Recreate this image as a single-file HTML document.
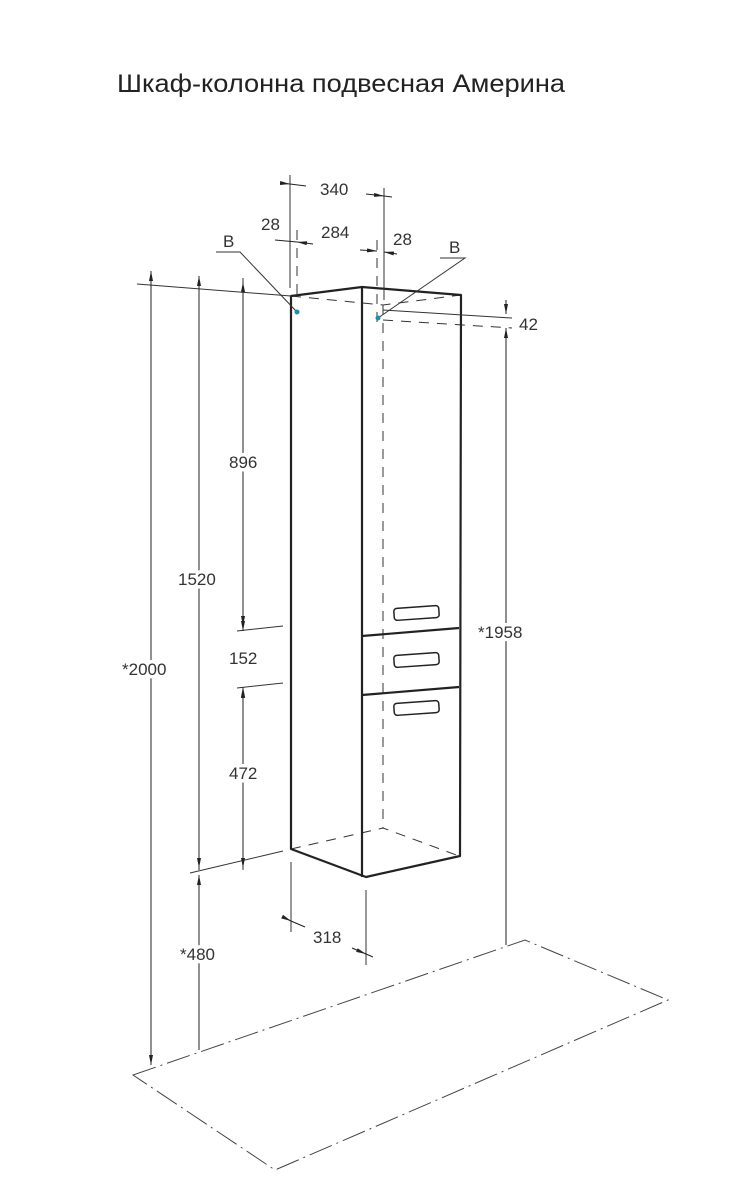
<!DOCTYPE html>
<html><head><meta charset="utf-8"><style>
html,body{margin:0;padding:0;background:#fff;}
svg{display:block}
text{font-family:"Liberation Sans",sans-serif;fill:#333;}
.l text{stroke:#fff;stroke-width:7;paint-order:stroke;stroke-linejoin:round;}
</style></head><body>
<svg width="732" height="1200" viewBox="0 0 732 1200" xmlns="http://www.w3.org/2000/svg">
<defs>
<marker id="a" viewBox="0 0 10 4" refX="10" refY="2" markerWidth="10" markerHeight="4" orient="auto-start-reverse" markerUnits="userSpaceOnUse"><path d="M0,0L10,2L0,4z" fill="#222"/></marker>
</defs>
<text x="117" y="92" font-size="25" textLength="448" lengthAdjust="spacingAndGlyphs" style="fill:#222">Шкаф-колонна подвесная  Америна</text>

<!-- floor -->
<polygon points="133,1075 525,940 668,1000 275,1170" fill="none" stroke="#444" stroke-width="1" stroke-dasharray="24,5,2,5"/>

<!-- cabinet hidden lines -->
<g stroke="#333" stroke-width="1" stroke-dasharray="10,8" fill="none">
<path d="M291,296 L383,305 L461,295"/>
<path d="M383,305 L383,828"/>
<path d="M291,849 L383,828 L459,856"/>
<path d="M377,240 L377,325"/>
<path d="M297,230 L297,300"/>
<path d="M383,320 L512,328"/>
</g>
<!-- cabinet -->
<g stroke="#222" stroke-width="2.2" fill="none" stroke-linejoin="round">
<path d="M291,296 L362,287 L461,295 L460,856 L366,877 L291,849 Z"/>
<path d="M362,287 L362,877"/>
<path d="M362,636 L459,628"/>
<path d="M362,695 L459,687"/>
</g>
<g stroke="#222" stroke-width="1.5" fill="none">
<rect x="394" y="607" width="45" height="12" rx="3" transform="rotate(-4 416 613)"/>
<rect x="394" y="654" width="45" height="12" rx="3" transform="rotate(-4 416 660)"/>
<rect x="394" y="702" width="45" height="12" rx="3" transform="rotate(-4 416 708)"/>
</g>

<!-- thin dimension lines -->
<g stroke="#333" stroke-width="1" fill="none">
<path d="M137,284 L291,296"/>
<path d="M383,310 L512,318"/>
<path d="M290,175 L290,288"/>
<path d="M384,188 L384,300"/>
<path d="M216,252 L240,252 L297,312"/>
<path d="M440,258 L465,258 L378,318"/>
<path d="M237,631 L283,626"/>
<path d="M237,688 L283,683"/>
<path d="M190,873 L283,851"/>
<path d="M291,862 L291,932"/>
<path d="M366,890 L366,965"/>
<path d="M243,278 L243,625"/>
<path d="M243,690 L243,870"/>
</g>
<g stroke="#222" stroke-width="1" fill="none">
<path d="M280,183 L290,184" marker-end="url(#a)"/>
<path d="M306,186 L290,184"/>
<path d="M366,194 L384,196" marker-end="url(#a)"/>
<path d="M384,196 L392,197"/>
<path d="M275,240 L297,242"/>
<path d="M313,244 L297,242" marker-end="url(#a)"/>
<path d="M360,250 L377,251" marker-end="url(#a)"/>
<path d="M397,254 L384,252" marker-end="url(#a)"/>
<path d="M151,1065 L151,271" marker-end="url(#a)"/>
<path d="M151,280 L151,1065" marker-end="url(#a)"/>
<path d="M199,870 L199,276" marker-end="url(#a)"/>
<path d="M199,560 L199,868" marker-end="url(#a)"/>
<path d="M199,1050 L199,875" marker-end="url(#a)"/>
<path d="M243,460 L243,282" marker-end="url(#a)"/>
<path d="M243,470 L243,626" marker-end="url(#a)"/>
<path d="M243,615 L243,631" marker-end="url(#a)"/>
<path d="M243,700 L243,687" marker-end="url(#a)"/>
<path d="M243,770 L243,688" marker-end="url(#a)"/>
<path d="M243,775 L243,868" marker-end="url(#a)"/>
<path d="M506,300 L506,314" marker-end="url(#a)"/>
<path d="M506,342 L506,328" marker-end="url(#a)"/>
<path d="M506,328 L506,945"/>
<path d="M285,918 L291,921" marker-end="url(#a)"/>
<path d="M291,921 L305,927"/>
<path d="M352,948 L366,954" marker-end="url(#a)"/>
<path d="M366,954 L373,957"/>
</g>
<circle cx="297" cy="312" r="2.5" fill="#1a8fb0"/>
<circle cx="378" cy="318" r="2.5" fill="#1a8fb0"/>

<g font-size="17" class="l">
<text x="320" y="195">340</text>
<text x="261" y="230">28</text>
<text x="321" y="238">284</text>
<text x="393" y="245">28</text>
<text x="223" y="247">B</text>
<text x="449" y="253">B</text>
<text x="519" y="330">42</text>
<text x="229" y="468">896</text>
<text x="178" y="585">1520</text>
<text x="229" y="664">152</text>
<text x="229" y="779">472</text>
<text x="122" y="675">*2000</text>
<text x="478" y="638">*1958</text>
<text x="180" y="960">*480</text>
<text x="313" y="943">318</text>
</g>
</svg>
</body></html>
